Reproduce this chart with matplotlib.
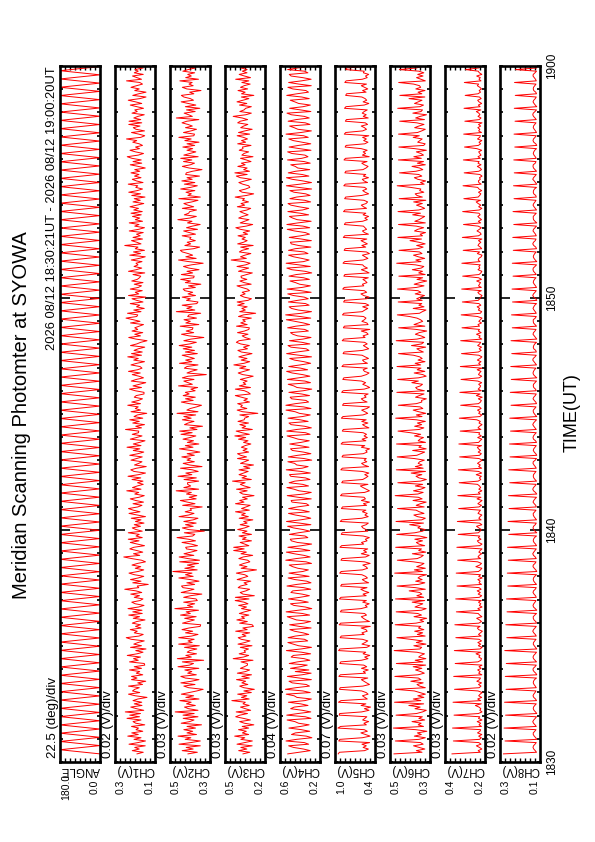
import numpy as np
import matplotlib
matplotlib.use("Agg")
import matplotlib.pyplot as plt
import matplotlib.transforms as mtransforms
from matplotlib.ticker import MultipleLocator, FixedLocator

plt.rcParams['font.family'] = ['Liberation Sans', 'DejaVu Sans']

# ---------------- data ----------------
title = "Meridian Scanning Photomter at SYOWA"
period = "2026 08/12 18:30:21UT - 2026 08/12 19:00:20UT"
time_ticks = [0, 10, 20, 30]            # minutes after 18:30
time_labels = ["1830", "1840", "1850", "1900"]
start_min, end_min = 21 / 60, 30 + 20 / 60

channels = ["ANGLE", "CH1(V)", "CH2(V)", "CH3(V)", "CH4(V)",
            "CH5(V)", "CH6(V)", "CH7(V)", "CH8(V)"]
scales = ["22.5 (deg)/div", "0.02 (V)/div", "0.03 (V)/div", "0.03 (V)/div",
          "0.04 (V)/div", "0.07 (V)/div", "0.03 (V)/div", "0.03 (V)/div",
          "0.02 (V)/div"]
top_vals = [180.0, 0.28, 0.52, 0.46, 0.56, 0.98, 0.53, 0.44, 0.26]
bottom_vals = [0.0, 0.12, 0.28, 0.22, 0.24, 0.42, 0.29, 0.20, 0.10]
top_labels = ["180.0", "0.3", "0.5", "0.5", "0.6", "1.0", "0.5", "0.4", "0.3"]
bottom_labels = ["0.0", "0.1", "0.3", "0.2", "0.2", "0.4", "0.3", "0.2", "0.1"]

# scan angle turning points (deg)
angle = [0, 180, 0, 180, 0, 180, 0, 180, 0, 180, 0, 180, 0, 180, 0, 180, 0, 180, 0, 180,
         0, 180, 0, 180, 0, 180, 0, 180, 0, 180, 0, 180, 0, 180, 0, 180, 0, 180, 0, 180,
         0, 180, 0, 180, 0, 180, 0, 180, 0, 180, 0, 180, 0, 180, 0, 180, 0, 180, 0, 180,
         0, 180, 0, 180, 0, 180, 0, 180, 0, 180, 0, 180, 0, 180, 0, 180, 0, 180, 0, 180,
         0, 180, 0, 180, 0, 180, 0, 180, 0, 180, 0, 180, 0, 180, 0, 180, 0, 180, 0, 180,
         0, 180, 0, 180, 0, 180, 0, 180, 0, 180, 0, 180, 0, 180, 0, 180, 0, 180, 0, 180,
         0, 180, 0, 180, 0, 180, 0, 180, 0, 180, 0, 180, 0, 180, 0, 180, 0, 180, 0, 180,
         0, 180, 0, 180, 0, 180, 0, 180, 0, 180, 0, 180, 0, 180, 0, 180, 0, 180, 0, 180,
         0, 180, 0, 180, 0, 180, 0, 180, 0]

# photometer channels (mV)
ch1 = [192,167,211,183,201,159,224,188, 158,204,176,229,187,213,169,196, 186,214,161,197,208,176,232,182, 221,178,239,165,194,217,172,203, 173,208,189,152,199,226,181,210, 201,183,226,170,189,157,214,192,
       214,169,195,181,222,174,203,161, 163,222,187,206,178,231,192,168, 197,156,218,174,205,188,163,215, 235,184,167,203,191,219,176,198, 178,211,193,160,207,182,225,171, 209,172,228,186,164,199,213,180,
       168,203,182,217,173,196,241,185, 191,147,209,176,218,187,165,202, 224,188,165,199,177,212,190,158, 174,213,245,181,206,169,193,221, 205,162,190,219,184,227,171,196, 183,227,171,196,211,178,203,164,
       198,176,215,158,192,224,180,207, 226,189,172,208,166,197,219,184, 163,201,185,233,176,210,191,167, 190,168,212,177,228,186,158,204, 217,194,155,202,185,172,216,193, 171,221,188,165,207,181,232,176,
       207,182,160,219,194,172,211,186, 185,238,174,197,162,209,183,221, 169,204,191,153,216,178,199,187, 229,178,213,186,170,203,195,164, 164,199,222,174,208,183,157,215, 195,166,184,211,179,226,190,172,
       180,216,193,162,205,187,229,174, 214,171,204,187,161,218,193,177, 152,196,225,178,201,169,212,189, 201,184,166,218,180,207,236,193, 189,230,176,205,163,194,181,219, 168,193,212,157,226,185,199,171,
       219,187,174,203,168,213,191,182, 177,208,161,226,195,173,204,188, 196,172,215,183,159,221,178,206, 162,199,188,241,176,193,214,170, 208,179,194,167,223,186,162,201, 184,223,170,199,181,210,175,216,
       171,205,186,220,192,165,208,179, 203,160,213,178,225,191,170,197, 189,227,168,194,211,176,202,184, 216,181,201,159,187,219,173,208, 175,212,231,187,166,198,220,182, 198,170,183,209,193,234,177,161,
       185,214,162,196,207,180,225,173, 224,177,205,188,163,212,191,201, 166,193,219,173,198,227,181,156, 209,185,156,201,183,216,194,170, 181,234,174,192,210,167,203,187, 200,167,211,179,222,188,164,205]
ch2 = [412,356,447,381,423,338,466,395, 338,429,395,472,361,418,384,437, 367,418,331,453,402,376,441,352, 442,375,489,352,409,433,368,421, 393,461,346,425,378,452,407,359, 321,408,437,370,455,392,346,428,
       455,362,414,389,431,347,472,403, 379,446,318,476,392,425,361,417, 401,359,433,344,468,387,412,375, 468,391,352,427,384,448,406,339, 336,445,408,374,432,363,457,398, 423,349,491,383,415,372,438,356,
       364,438,397,329,453,411,376,442, 451,372,419,346,398,467,381,427, 388,503,357,431,374,416,349,462, 343,412,465,377,436,395,358,421, 426,355,392,448,367,409,478,384, 371,434,314,409,446,381,427,363,
       437,381,352,466,408,376,429,391, 399,327,444,370,416,458,363,405, 359,421,392,483,348,437,396,414, 415,348,436,362,472,389,425,351, 386,457,328,403,441,374,418,396, 449,374,417,341,395,463,382,428,
       347,416,379,442,401,365,454,387, 462,358,401,325,433,412,376,446, 393,437,366,478,352,419,398,361, 331,404,452,381,427,368,441,405, 428,369,395,354,469,386,412,437, 376,446,411,302,418,393,357,434,
       418,352,463,389,426,374,408,447, 356,428,373,441,389,465,402,362, 437,394,317,406,451,378,423,386, 382,459,347,425,398,436,361,414, 406,336,482,371,419,388,447,359, 352,421,398,447,367,412,384,431,
       441,368,409,335,428,397,456,378, 375,452,384,418,346,407,439,392, 321,407,469,363,425,384,411,446, 458,379,342,431,396,417,368,402, 394,447,367,404,438,355,421,386, 339,415,388,473,401,362,434,408,
       402,361,446,378,413,437,389,352, 467,338,413,392,424,371,456,397, 356,434,371,449,387,418,343,426, 422,385,328,405,446,398,373,439, 389,456,351,437,402,365,418,384, 443,372,418,346,431,393,467,377,
       373,439,394,361,427,386,412,448, 419,347,482,386,408,435,369,421, 341,428,365,411,453,379,398,437, 452,377,402,334,419,446,381,406, 387,461,349,426,392,414,372,443, 411,369,437,382,424,358,445,397]
ch3 = [352,311,378,329,365,297,388,341, 296,365,341,402,318,356,332,379, 318,357,287,344,372,308,349,396, 371,325,393,306,338,367,315,352, 338,419,315,361,329,384,302,347, 284,347,372,323,359,336,391,314,
       359,301,386,337,312,368,344,325, 326,364,292,411,349,318,375,337, 345,319,368,298,382,341,310,363, 381,334,357,312,396,327,353,289, 297,372,326,389,343,361,317,374, 343,305,361,331,378,322,346,399,
       316,398,284,352,369,335,312,381, 367,327,346,305,387,356,323,341, 392,338,271,363,328,374,347,311, 324,377,351,294,364,332,408,345, 408,317,342,369,301,356,333,376, 301,356,328,384,342,315,369,327,
       348,293,375,320,361,338,397,314, 361,334,309,397,346,372,326,355, 286,353,372,327,391,309,344,368, 339,415,302,358,331,376,349,321, 376,311,348,289,367,343,318,385, 331,366,385,318,352,327,362,339,
       305,349,322,379,336,401,314,358, 393,296,358,336,371,319,382,345, 342,318,371,263,354,387,329,366, 356,384,313,347,325,362,398,308, 321,343,398,307,374,335,351,327, 368,329,291,354,381,346,313,372,
       335,407,346,312,363,328,377,341, 298,362,383,325,349,314,366,392, 376,308,339,357,322,385,343,317, 314,391,327,366,338,354,302,379, 349,276,372,338,359,327,384,345, 387,322,301,345,368,339,357,313,
       326,359,388,303,345,371,329,362, 364,331,296,379,352,318,388,336, 309,347,423,332,367,341,305,374, 357,318,366,291,384,349,327,358, 338,382,324,351,312,367,395,333, 294,369,342,316,378,355,321,347,
       371,328,306,386,342,364,319,355, 343,399,331,288,357,374,336,311, 318,354,377,341,302,368,392,327, 401,313,348,327,383,339,362,304, 332,367,292,359,346,318,375,352, 355,304,384,336,361,325,349,387,
       312,379,341,297,366,348,323,384, 368,324,357,411,335,302,371,346, 336,302,373,329,388,353,317,362, 287,361,339,382,324,367,345,309, 359,317,396,307,343,375,328,356, 327,364,308,350,379,336,362,318]
ch4 = [498,405,318,372,452,491,331,366, 512,428,305,349,468,437,322,389, 489,396,327,412,441,503,312,358, 506,417,314,381,475,446,336,394, 493,362,309,425,447,510,318,377, 517,433,324,351,462,488,309,402,
       501,384,311,438,329,476,398,342, 486,421,321,367,471,453,315,388, 509,392,308,411,455,497,338,364, 495,437,330,375,444,481,311,406, 483,369,316,429,466,502,323,382, 511,415,306,358,449,476,334,397,
       492,401,325,384,473,458,314,371, 504,426,312,346,440,495,327,409, 488,378,333,417,459,486,308,352, 514,432,319,368,446,509,321,393, 497,387,307,421,469,478,337,360, 485,413,322,375,452,499,313,404,
       508,396,314,362,437,492,326,385, 491,422,329,349,464,471,310,416, 502,368,310,408,448,505,332,379, 487,441,320,357,474,484,317,391, 510,383,335,426,443,497,306,368, 494,418,313,373,461,476,328,402,
       482,392,326,415,456,503,319,356, 506,427,309,364,471,488,335,398, 496,381,318,405,439,512,312,372, 513,436,331,353,467,479,324,387, 489,374,306,424,450,494,316,361, 501,411,321,379,463,507,339,395,
       490,398,315,368,445,482,308,410, 507,425,328,351,472,496,321,384, 484,377,312,419,457,476,333,363, 499,433,323,372,441,509,314,399, 515,389,308,414,468,487,327,356, 493,420,334,366,453,498,311,392,
       503,385,317,403,436,480,325,371, 488,430,306,359,466,505,318,408, 511,372,327,386,451,491,336,365, 492,439,313,412,470,477,309,389, 486,394,324,357,444,502,322,376, 505,416,311,423,459,485,331,398,
       497,380,330,409,473,496,315,362, 481,428,319,354,448,481,307,413, 509,399,308,376,462,508,329,384, 494,435,322,418,438,474,318,367, 500,386,336,361,465,499,312,403, 487,412,314,382,454,490,334,371,
       512,393,309,417,447,483,320,358, 495,431,326,366,469,504,313,395, 483,375,317,411,442,478,326,386, 506,424,332,353,458,497,310,409, 491,388,311,378,471,486,337,364, 499,419,323,402,449,501,316,381]
ch5 = [935,918,566,512,587,541,603,495, 928,911,598,489,552,618,527,571, 940,902,541,575,508,593,562,534, 921,915,607,503,569,482,615,548, 932,896,528,561,596,517,544,607, 917,908,589,497,538,574,611,521,
       926,905,552,584,514,609,536,578, 913,899,611,518,565,493,587,549, 930,912,535,492,603,559,521,596, 908,893,572,603,529,547,614,486, 922,901,498,547,583,612,539,566, 905,890,616,529,557,501,592,541,
       918,897,543,588,506,574,619,532, 901,886,509,561,598,526,553,604, 915,894,596,524,547,591,488,568, 897,882,553,501,612,537,579,522, 911,888,578,609,531,555,499,586, 893,879,521,546,589,608,545,513,
       907,884,603,515,562,529,596,548, 890,875,537,582,497,611,554,573, 903,881,566,498,543,587,625,519, 886,871,592,551,518,564,506,597, 899,877,510,574,608,535,571,542, 882,867,584,530,549,496,612,563,
       895,873,548,601,527,573,539,586, 878,864,505,557,594,519,606,544, 891,869,589,522,561,607,533,497, 875,860,531,583,612,545,568,516, 887,866,571,495,538,592,551,609, 871,856,612,541,503,567,586,528,
       883,862,526,572,595,511,558,601, 867,853,593,508,547,583,529,565, 879,858,559,587,516,538,612,492, 863,849,517,534,604,569,546,581, 876,855,598,562,521,593,507,553, 860,845,540,502,578,617,537,569,
       872,851,577,596,532,555,589,514, 856,842,503,548,611,526,572,593, 868,847,585,519,558,597,498,541, 852,838,550,604,527,573,616,535, 864,844,512,568,596,538,559,582, 849,835,594,527,563,509,587,548,
       861,840,538,581,612,545,523,574, 845,831,606,509,557,592,536,565, 857,836,524,573,598,511,584,549, 842,828,589,546,517,568,605,531, 854,833,501,597,552,586,529,613, 838,825,563,518,579,541,594,507,
       850,830,592,539,568,613,524,557, 835,821,515,585,543,599,571,528, 847,827,572,506,587,536,558,604, 831,818,545,594,521,566,612,539, 843,824,598,529,553,508,583,571, 828,815,522,567,602,548,533,589]
ch6 = [506,338,372,321,355,389,331,347, 498,356,318,384,342,366,309,375, 510,329,361,343,398,322,357,336, 494,371,335,312,380,349,417,328, 503,345,390,327,363,318,352,384, 497,318,352,368,331,405,344,360,
       501,362,324,346,377,339,391,316, 492,333,379,315,358,344,323,369, 505,351,340,387,314,372,336,408, 489,319,366,334,382,327,359,345, 499,374,328,351,310,386,341,364, 493,342,313,380,356,333,397,322,
       497,328,369,339,352,415,318,377, 488,359,321,376,337,362,348,311, 502,336,384,318,370,343,326,389, 486,367,344,330,396,315,358,341, 496,322,357,372,335,381,309,353, 490,381,334,319,363,348,412,329,
       494,340,318,365,387,326,354,373, 485,325,373,348,313,392,337,360, 499,363,331,389,345,320,378,334, 483,347,312,356,374,339,403,317, 492,331,378,337,361,352,324,385, 487,369,345,322,394,313,357,342,
       491,317,361,350,329,383,346,408, 482,355,327,382,340,366,318,371, 496,338,372,315,358,391,333,349, 480,372,339,341,312,377,354,326, 489,324,366,376,348,335,399,360, 484,359,313,333,385,321,367,344,
       488,346,379,320,362,337,352,389, 479,330,352,369,316,401,341,328, 493,368,321,344,378,355,310,373, 478,321,386,359,334,347,368,414, 486,353,336,314,391,326,357,339, 481,337,370,348,323,379,345,362,
       485,372,326,385,351,310,368,334, 477,319,358,335,396,343,327,377, 490,344,375,322,360,389,338,353, 476,362,331,370,319,356,410,341, 483,335,349,317,383,364,328,372, 479,318,381,356,339,322,394,347,
       482,357,322,343,371,336,388,315, 475,336,368,379,327,352,345,406, 487,325,347,316,363,384,339,358, 473,374,333,352,398,318,366,329, 480,342,387,329,345,372,312,381, 477,328,319,364,350,337,391,354,
       479,365,340,318,382,357,326,369, 472,323,376,349,311,393,344,335, 484,351,329,383,360,338,416,321, 471,339,362,320,375,346,353,388, 478,318,345,371,332,364,327,357, 474,371,334,337,392,315,368,343]
ch7 = [398,228,241,219,233,252,224,237, 390,233,222,238,219,245,230,226, 395,221,236,226,247,218,239,231, 386,240,218,231,225,236,258,222, 392,226,244,220,238,229,217,242, 383,235,224,239,221,249,233,227,
       388,219,238,229,244,223,236,218, 379,242,225,221,237,230,254,224, 384,230,217,240,226,243,221,235, 375,223,239,227,216,238,246,229, 381,237,221,233,250,219,232,241, 372,228,243,218,234,225,239,222,
       376,234,220,241,228,247,223,236, 368,221,236,229,243,217,238,226, 373,239,227,219,255,232,221,244, 364,226,242,235,220,237,229,218, 369,232,218,238,246,224,240,231, 361,240,229,222,236,251,219,233,
       366,223,237,230,219,242,235,227, 358,236,221,243,231,218,248,224, 363,229,240,219,237,226,233,245, 355,241,225,234,222,253,220,238, 360,220,238,228,245,231,217,236, 352,233,222,241,227,239,246,221,
       357,238,230,219,244,222,237,232, 349,224,242,233,218,236,228,249, 354,231,219,238,229,245,223,234, 346,239,227,222,240,217,252,229, 351,222,241,231,226,238,220,243, 344,235,220,239,233,224,247,218,
       348,227,238,224,246,230,219,237, 341,240,223,235,221,244,232,226, 346,219,236,229,251,223,240,233, 338,233,242,221,237,228,218,245, 343,228,220,240,232,247,225,236, 336,241,231,226,218,235,243,222,
       340,222,239,233,227,250,221,238, 334,236,225,219,242,231,237,228, 339,230,241,237,223,218,246,232, 331,220,228,242,236,225,239,219, 336,239,223,230,248,234,222,241, 329,226,240,221,233,243,229,236,
       334,234,219,238,225,241,253,227, 327,241,232,225,239,220,236,244, 332,223,237,240,228,233,218,231, 325,237,221,229,246,224,242,235, 330,228,242,224,231,238,220,249, 323,240,226,236,219,245,232,227,
       328,221,238,231,243,226,239,218, 321,235,224,242,230,237,252,225, 326,229,240,220,236,244,223,233, 319,242,227,235,221,231,246,238, 324,224,236,228,250,219,234,241, 317,238,221,240,232,227,245,222]
ch8 = [246,114,119,125,128,126,120,115, 240,113,117,123,127,127,121,116, 244,115,120,126,129,125,119,114, 238,113,118,124,127,126,121,115, 242,114,118,125,128,125,120,116, 236,115,119,124,127,126,122,114,
       239,113,117,124,128,127,120,115, 235,114,120,126,128,125,119,114, 241,113,118,123,127,126,121,116, 233,115,119,125,129,126,120,115, 237,114,117,124,127,127,121,114, 232,113,119,126,128,125,120,116,
       234,115,118,124,128,126,119,115, 229,114,120,125,127,126,121,114, 231,113,117,123,128,127,120,116, 227,115,119,126,129,125,120,115, 230,114,118,124,127,126,122,114, 225,113,120,125,128,126,119,115,
       228,114,119,124,127,127,121,116, 224,115,117,123,128,125,120,114, 226,113,118,126,129,126,120,115, 221,114,120,125,127,126,121,116, 225,115,119,124,128,127,119,114, 220,113,117,123,127,125,120,115,
       222,114,118,126,128,126,121,115, 218,115,120,125,129,126,120,114, 221,113,119,124,127,127,121,116, 216,114,117,123,128,125,119,115, 219,115,118,125,127,126,120,114, 215,113,120,126,128,126,122,116,
       217,114,119,124,129,127,120,115, 213,115,117,125,127,125,121,114, 216,113,118,123,128,126,120,116, 211,114,120,126,127,127,119,115, 214,115,119,124,128,125,121,114, 210,113,117,125,129,126,120,115,
       212,114,118,123,127,126,122,116, 208,115,120,126,128,127,120,114, 211,113,119,124,127,125,121,115, 207,114,117,125,129,126,119,116, 209,115,118,123,128,126,120,114, 205,113,120,126,127,127,121,115,
       208,114,119,124,128,125,120,116, 204,115,117,125,127,126,122,114, 206,113,118,123,129,126,120,115, 203,114,120,126,128,127,119,116, 205,115,119,124,127,125,121,114, 201,113,117,125,128,126,120,115,
       204,114,118,123,127,126,121,116, 200,115,120,126,129,127,120,114, 203,113,119,124,128,125,119,115, 199,114,117,125,127,126,121,116, 202,115,118,123,128,127,120,114, 198,113,120,126,127,125,122,115]

series = [np.array(angle, float)] + [np.array(c, float) / 1000.0 for c in
                                      (ch1, ch2, ch3, ch4, ch5, ch6, ch7, ch8)]

# ---------------- layout ----------------
W, H = 595, 842
fig = plt.figure(figsize=(W / 100, H / 100), dpi=100)

def fx(x):
    return x / W

def fy(y):
    return 1 - y / H

panel_left = [60 + 55 * i for i in range(9)]
panel_w = 40
panel_top, panel_bot = 66, 762

axes = []
for i in range(9):
    x0 = panel_left[i]
    ax = fig.add_axes([fx(x0), fy(panel_bot), panel_w / W, (panel_bot - panel_top) / H])
    vals = series[i]
    t = np.linspace(start_min, end_min, len(vals))
    ax.plot(vals, t, color='#ff0000', lw=0.7)
    ax.set_ylim(0, 30)
    ax.set_xlim(top_vals[i], bottom_vals[i])
    for s in ax.spines.values():
        s.set_linewidth(1.9)
    ax.yaxis.set_major_locator(FixedLocator([10, 20]))
    ax.yaxis.set_minor_locator(MultipleLocator(1))
    ax.tick_params(axis='y', which='major', direction='in', left=True, right=True,
                   length=7.5, width=1.2, labelleft=False)
    ax.tick_params(axis='y', which='minor', direction='in', left=True, right=True,
                   length=2.5, width=1.2)
    ax.set_xticks(np.linspace(bottom_vals[i], top_vals[i], 9)[1:-1])
    ax.tick_params(axis='x', which='major', direction='in', top=True, bottom=True,
                   length=3, width=1.0, labelbottom=False)
    axes.append(ax)

    fig.text(fx(x0 - 7), fy(758), scales[i], rotation=90, ha='center', va='bottom',
             fontsize=9.5)
    fig.text(fx(x0 + panel_w / 2), fy(764), channels[i], rotation=180, ha='center',
             va='top', fontsize=8.3)
    fig.text(fx(x0 + 1), fy(787), top_labels[i], rotation=90, ha='left', va='center',
             fontsize=7.5)
    fig.text(fx(x0 + panel_w), fy(787), bottom_labels[i], rotation=90, ha='right',
             va='center', fontsize=7.5)

last = axes[-1]
tr = mtransforms.blended_transform_factory(fig.transFigure, last.transData)
for tv, tl in zip(time_ticks, time_labels):
    fig.text(fx(552), tv, tl, transform=tr, rotation=90, ha='center', va='center',
             fontsize=8.5)

fig.text(fx(572), fy(413), "TIME(UT)", rotation=90, ha='center', va='center',
         fontsize=13)
fig.text(fx(22), fy(415), title, rotation=90, ha='center', va='center', fontsize=14.5)
fig.text(fx(52), fy(66), period, rotation=90, ha='center', va='top', fontsize=9.3)

fig.savefig("out.png", dpi=100)
